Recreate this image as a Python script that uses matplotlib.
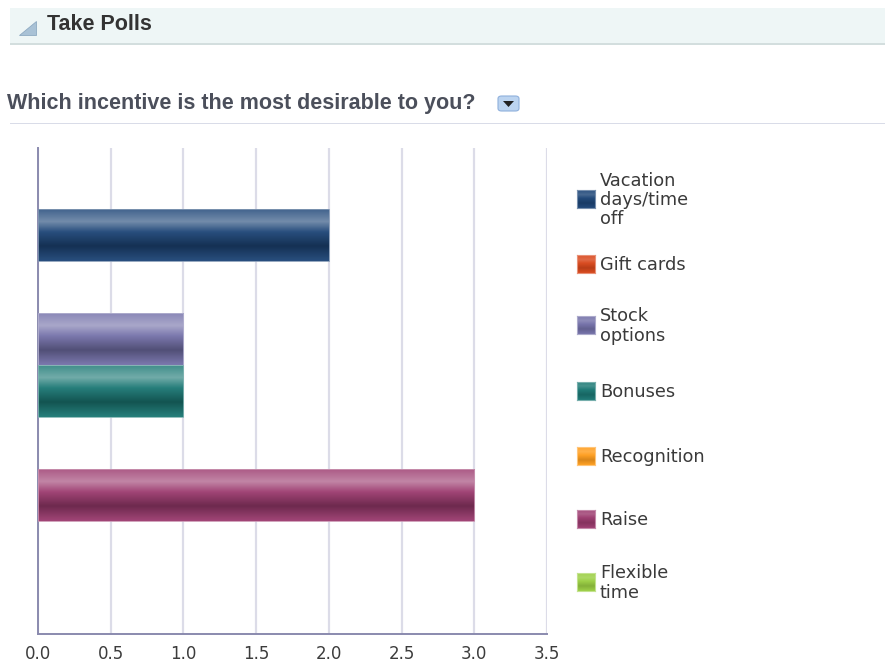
import numpy as np
import matplotlib.pyplot as plt
from matplotlib.patches import Rectangle, Polygon, FancyBboxPatch
from matplotlib.colors import to_rgb

# poll answers, one bar per incentive
incentives = ["Vacation\ndays/time\noff", "Gift cards", "Stock\noptions", "Bonuses",
              "Recognition", "Raise", "Flexible\ntime"]
votes = [2, 0, 1, 1, 0, 3, 0]
bar_colors = ["#1d4577", "#d9481c", "#7471a9", "#1b7874", "#ff9e1f", "#9c3b6f", "#9bcf43"]
x_ticks = [0.0, 0.5, 1.0, 1.5, 2.0, 2.5, 3.0, 3.5]
question = "Which incentive is the most desirable to you?"
header = "Take Polls"

W, H = 885, 663
fig = plt.figure(figsize=(W / 100, H / 100), dpi=100)


def px(x, y):
    return x / W, 1 - y / H


def shade(c, f):
    c = np.array(to_rgb(c))
    if f >= 0:
        return c + (1 - c) * f
    return c * (1 + f)


def gradient(c, k=1.0):
    # horizontal glossy stripes: mid, light band, base, dark band, mid
    stops = [(0.0, shade(c, 0.15 * k)), (0.25, shade(c, 0.38 * k)), (0.45, shade(c, 0.05 * k)),
             (0.72, shade(c, -0.3 * k)), (1.0, shade(c, 0.05 * k))]
    t = np.linspace(0, 1, 64)
    pos = [s[0] for s in stops]
    rgb = np.stack([np.interp(t, pos, [s[1][j] for s in stops]) for j in range(3)], axis=1)
    return rgb[:, None, :]


# header band
fig.patches.append(Rectangle(px(10, 43), 1 - 10 / W, 35 / H, transform=fig.transFigure,
                             facecolor="#eef6f6", edgecolor="none"))
fig.patches.append(Rectangle(px(10, 45), 1 - 10 / W, 2 / H, transform=fig.transFigure,
                             facecolor="#d3dede", edgecolor="none"))
fig.patches.append(Polygon([px(19, 35), px(36, 35), px(36, 21)], closed=True,
                           transform=fig.transFigure, facecolor="#a9c2d6", edgecolor="#8eaac2", lw=0.6))
fig.text(*px(47, 25), header, fontsize=15.5, fontweight="bold", family="Liberation Sans",
         color="#333333", va="center", ha="left")

# question line
fig.text(*px(7, 103), question, fontsize=15.5, fontweight="bold", family="Liberation Sans",
         color="#4b4f5b", va="center", ha="left")
fig.patches.append(FancyBboxPatch(px(498, 111), 21 / W, 15 / H, transform=fig.transFigure,
                                  boxstyle="round,pad=0,rounding_size=0.004",
                                  facecolor="#bcd4f0", edgecolor="#8fb0dc", lw=0.8))
fig.patches.append(Polygon([px(503, 101), px(514, 101), px(508.5, 107)], closed=True,
                           transform=fig.transFigure, facecolor="#222222", edgecolor="none"))
fig.patches.append(Rectangle(px(10, 124), 1 - 10 / W, 1.5 / H, transform=fig.transFigure,
                             facecolor="#d9dce8", edgecolor="none"))

# chart area
ax = fig.add_axes([38 / W, 1 - 634 / H, 509 / W, 486 / H])
n = len(votes)
group = 0.75
h = group / n
ypos = -group / 2 + h * (np.arange(n) + 0.5)
bars = ax.barh(ypos, votes, height=h, color=bar_colors, edgecolor="none", zorder=2)
for bar, c in zip(bars, bar_colors):
    if bar.get_width() == 0:
        continue
    x0, y0, w, hh = bar.get_x(), bar.get_y(), bar.get_width(), bar.get_height()
    im = ax.imshow(gradient(c), extent=(x0, x0 + w, y0 + hh, y0), aspect="auto",
                   origin="upper", zorder=3, interpolation="bilinear")
    im.set_clip_path(bar)
    ax.add_patch(Rectangle((x0, y0), w, hh, facecolor="none",
                           edgecolor=shade(c, 0.45), lw=0.6, zorder=4))

ax.set_xlim(0, 3.5)
ax.set_ylim(0.5, -0.5)
ax.set_xticks(x_ticks)
ax.set_xticklabels([f"{v:.1f}" for v in x_ticks])
ax.set_yticks([])
ax.grid(axis="x", color="#dcdce8", lw=1.6, zorder=0)
ax.set_axisbelow(True)
for s in ["top", "right"]:
    ax.spines[s].set_visible(False)
for s in ["left", "bottom"]:
    ax.spines[s].set_color("#8a8aae")
    ax.spines[s].set_linewidth(1.4)
ax.tick_params(axis="x", length=0, pad=14.5, labelsize=12, labelcolor="#3c3c3c")
for lab in ax.get_xticklabels():
    lab.set_verticalalignment("center")

# legend swatches with a softer version of the glossy fill
legend_y = [199, 264, 325, 391, 456, 519, 582]
for name, c, ly in zip(incentives, bar_colors, legend_y):
    sw = fig.add_axes([576.5 / W, 1 - (ly + 9) / H, 18 / W, 18 / H])
    sw.imshow(gradient(c, 0.5), aspect="auto", interpolation="bilinear")
    sw.set_xticks([])
    sw.set_yticks([])
    for s in sw.spines.values():
        s.set_color(shade(c, 0.4))
        s.set_linewidth(0.8)
    fig.text(*px(600, ly + 1), name, fontsize=12.8, color="#3a3a3a", va="center", ha="left",
             linespacing=1.1)

fig.savefig("out.png", dpi=100)
